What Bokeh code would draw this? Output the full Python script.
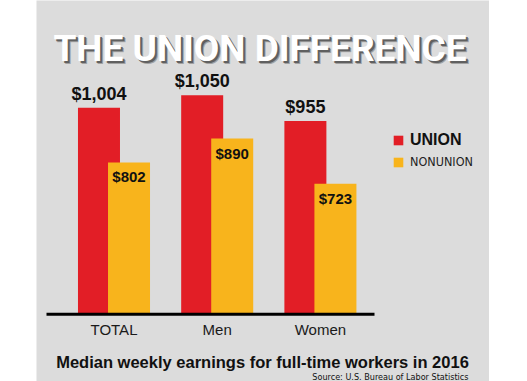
from bokeh.plotting import figure
from bokeh.models import (ColumnDataSource, Range1d, Label, LabelSet,
                          Legend, LegendItem, Spacer)
from bokeh.layouts import row
from bokeh.transform import dodge
from bokeh.core.properties import value
from bokeh.embed import file_html
from bokeh.resources import INLINE

# ---- data ----
categories = ["TOTAL", "Men", "Women"]
union = [1004, 1050, 955]
nonunion = [802, 890, 723]
union_labels = ["$1,004", "$1,050", "$955"]
nonunion_labels = ["$802", "$890", "$723"]
series_names = ["UNION", "NONUNION"]

title_text = "THE UNION DIFFERENCE"
subtitle_text = "Median weekly earnings for full-time workers in 2016"
source_text = "Source: U.S. Bureau of Labor Statistics"

# ---- layout / scales ----
LEFT_PAD = 36
W, H = 453, 381
PX_PER_X = 103.2          # px per category step
PX_PER_Y = 0.2712         # px per dollar
BASE = 245                # dollar value at the baseline
BASE_PX = 313             # baseline, px from top of figure
G0_PX = 77.5              # first group centre, px from left
X0 = -G0_PX / PX_PER_X
X1 = X0 + W / PX_PER_X
Y0 = BASE - (H - BASE_PX) / PX_PER_Y
Y1 = Y0 + H / PX_PER_Y

BG = "#DCDCDC"
RED = "#E21E26"
ORANGE = "#F8B41C"
SANS = "Liberation Sans, Arial, sans-serif"
TITLE_FONT = "Roboto, Liberation Sans, sans-serif"
COND = "DejaVu Sans Condensed, sans-serif"


def fx(px):
    return X0 + px / PX_PER_X


def fy(py):
    return Y0 + (H - py) / PX_PER_Y


src = ColumnDataSource(dict(
    x=list(range(len(categories))),
    cat=categories,
    union=union, nonunion=nonunion,
    ulab=union_labels, nlab=nonunion_labels,
))

p = figure(width=W, height=H, x_range=Range1d(X0, X1), y_range=Range1d(Y0, Y1),
           output_backend="svg", toolbar_location=None, title=None,
           min_border=0, x_axis_location=None, y_axis_location=None)
p.background_fill_color = BG
p.border_fill_color = BG
p.outline_line_color = None
p.grid.visible = False

BW = 0.407
OFF = 0.1455
r_u = p.vbar(x=dodge("x", -OFF), top="union", bottom=BASE, width=BW, source=src,
             fill_color=RED, line_color=None)
r_n = p.vbar(x=dodge("x", OFF), top="nonunion", bottom=BASE, width=BW, source=src,
             fill_color=ORANGE, line_color=None)

# baseline (axis line)
p.segment(x0=fx(10), x1=fx(338), y0=BASE - 0.7 / PX_PER_Y, y1=BASE - 0.7 / PX_PER_Y,
          line_color="black", line_width=3)

# category labels
p.add_layout(LabelSet(x="x", y=BASE, text="cat", source=src, y_offset=-21,
                      text_align="center", text_baseline="alphabetic",
                      text_font=value(SANS), text_font_size="15px",
                      text_color="#1a1a1a"))

p.add_layout(LabelSet(x=dodge("x", -OFF), y="union", text="ulab", source=src,
                      y_offset=8, text_align="center", text_baseline="alphabetic",
                      text_font=value(SANS), text_font_style="bold",
                      text_font_size="18px", text_color="#111111"))
p.add_layout(LabelSet(x=dodge("x", OFF), y="nonunion", text="nlab", source=src,
                      y_offset=-20, text_align="center", text_baseline="alphabetic",
                      text_font=value(SANS), text_font_style="bold",
                      text_font_size="15px", text_color="#111111"))

# title with shadow
for dx, dy, col, a in [(3, -3, "#333333", 0.35), (2, -2, "#555555", 0.85),
                       (0, 0, "white", 1.0)]:
    p.add_layout(Label(x=fx(223.5), y=fy(48), text=title_text, x_offset=dx,
                       y_offset=dy, text_align="center", text_baseline="alphabetic",
                       text_font=TITLE_FONT, text_font_style="bold",
                       text_font_size="37px", text_color=col, text_alpha=a))

p.add_layout(Label(x=fx(226), y=fy(361), text=subtitle_text, text_align="center",
                   text_baseline="alphabetic", text_font=SANS,
                   text_font_style="bold", text_font_size="16.5px",
                   text_color="#111111"))
p.add_layout(Label(x=fx(432), y=fy(376.5), text=source_text, text_align="right",
                   text_baseline="alphabetic", text_font=COND,
                   text_font_size="9px", text_color="#111111"))

common = dict(border_line_color=None, background_fill_alpha=0, padding=0, margin=0,
              spacing=0, glyph_width=12, glyph_height=12, label_standoff=6,
              label_height=12)
leg1 = Legend(items=[LegendItem(label=series_names[0], renderers=[r_u])],
              location=(356, H - 149), label_text_font=SANS,
              label_text_font_style="bold", label_text_font_size="16px",
              label_text_color="#111111", **common)
leg2 = Legend(items=[LegendItem(label=series_names[1], renderers=[r_n])],
              location=(356, H - 169), label_text_font=COND,
              label_text_font_size="12.5px", label_text_color="#222222", **common)
p.add_layout(leg1)
p.add_layout(leg2)

layout = row(Spacer(width=LEFT_PAD, height=H), p)
open("out.html", "w").write(file_html(layout, INLINE))
